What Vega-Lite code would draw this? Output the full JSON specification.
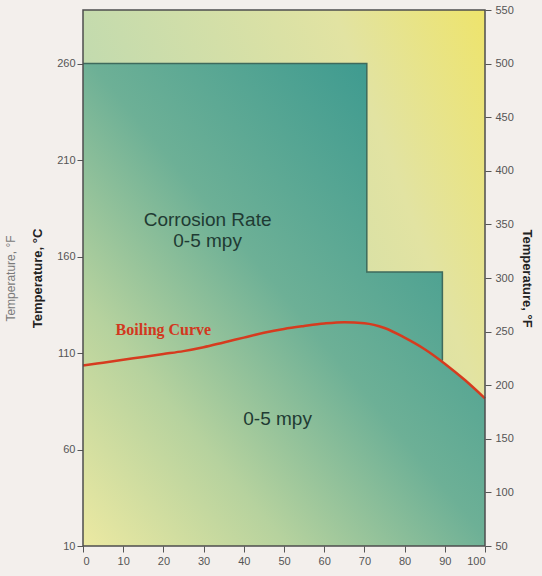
{
  "$schema": "https://vega.github.io/schema/vega-lite/v6.json",
  "width": 402,
  "height": 536,
  "autosize": {"type": "none"},
  "padding": {"left": 83, "top": 10, "right": 57, "bottom": 30},
  "background": "#f3efec",
  "config": {
    "view": {"stroke": null},
    "axis": {
      "labelFont": "Liberation Sans",
      "labelFontSize": 11,
      "labelColor": "#555555",
      "tickColor": "#555555",
      "tickSize": 6,
      "labelPadding": 2,
      "domain": false,
      "grid": false,
      "titleFont": "Liberation Sans",
      "titleFontSize": 13,
      "titleColor": "#222222"
    }
  },
  "datasets": {
    "frame": [{"x0": 0, "x1": 100, "f0": 50, "f1": 550}],
    "region": [
      {"i": 0, "x": 0, "c": 260},
      {"i": 1, "x": 70.6, "c": 260},
      {"i": 2, "x": 70.6, "c": 152},
      {"i": 3, "x": 89.4, "c": 152},
      {"i": 4, "x": 89.4, "c": 106},
      {"i": 5, "x": 90, "c": 104.5},
      {"i": 6, "x": 95, "c": 96},
      {"i": 7, "x": 100, "c": 86.5}
    ],
    "boiling": [
      {"x": 0, "c": 103.5},
      {"x": 5, "c": 105},
      {"x": 10, "c": 106.5},
      {"x": 15, "c": 108},
      {"x": 20, "c": 109.5},
      {"x": 25, "c": 111},
      {"x": 30, "c": 113},
      {"x": 35, "c": 115.5},
      {"x": 40, "c": 118},
      {"x": 45, "c": 120.5},
      {"x": 50, "c": 122.5},
      {"x": 55, "c": 124},
      {"x": 60, "c": 125.3},
      {"x": 65, "c": 126},
      {"x": 70, "c": 125.5},
      {"x": 75, "c": 123},
      {"x": 80, "c": 118},
      {"x": 85, "c": 112},
      {"x": 90, "c": 104.5},
      {"x": 95, "c": 96},
      {"x": 100, "c": 86.5}
    ],
    "labels": [
      {"text": "Corrosion Rate", "x": 31, "c": 179},
      {"text": "0-5 mpy", "x": 31, "c": 168},
      {"text": "0-5 mpy", "x": 48.4, "c": 76}
    ],
    "blabel": [{"text": "Boiling Curve", "x": 20, "c": 122}]
  },
  "layer": [
    {
      "data": {"name": "frame"},
      "mark": {
        "type": "rect",
        "fill": {
          "gradient": "linear",
          "x1": 0, "y1": 0.5, "x2": 1, "y2": 0,
          "stops": [
            {"offset": 0, "color": "#b9d8b2"},
            {"offset": 0.7, "color": "#e2e3a2"},
            {"offset": 1, "color": "#eee46c"}
          ]
        }
      },
      "encoding": {
        "x": {"field": "x0", "type": "quantitative", "scale": {"domain": [0, 100], "nice": false, "zero": false},
          "axis": {"values": [0, 10, 20, 30, 40, 50, 60, 70, 80, 90, 100], "title": null, "labelPadding": 3}},
        "x2": {"field": "x1"},
        "y": {"field": "f1", "type": "quantitative", "scale": {"domain": [50, 550], "nice": false, "zero": false},
          "axis": {"orient": "left", "title": "Temperature, °F", "labels": false, "ticks": false,
            "titleFontWeight": "normal", "titleColor": "#7a7a7a", "titleFontSize": 12, "titlePadding": 66}},
        "y2": {"field": "f0"}
      }
    },
    {
      "data": {"name": "region"},
      "mark": {
        "type": "area",
        "fill": {
          "gradient": "linear",
          "x1": 0, "y1": 1, "x2": 0.85, "y2": 0.15,
          "stops": [
            {"offset": 0, "color": "#ece9a2"},
            {"offset": 0.3, "color": "#b6d29e"},
            {"offset": 0.6, "color": "#6db096"},
            {"offset": 1, "color": "#3f9b90"}
          ]
        }
      },
      "encoding": {
        "x": {"field": "x", "type": "quantitative"},
        "y": {"field": "c", "type": "quantitative", "scale": {"domain": [10, 287.78], "nice": false, "zero": false},
          "axis": {"orient": "left", "title": "Temperature, °C", "values": [10, 60, 110, 160, 210, 260],
            "titleFontWeight": "bold", "titlePadding": 12}},
        "y2": {"datum": 10}
      }
    },
    {
      "data": {"name": "region"},
      "transform": [{"filter": "datum.i <= 4"}],
      "mark": {"type": "line", "color": "#3e6a5c", "strokeWidth": 1.5},
      "encoding": {
        "x": {"field": "x", "type": "quantitative"},
        "y": {"field": "c", "type": "quantitative", "scale": {"domain": [10, 287.78], "nice": false, "zero": false}, "axis": null},
        "order": {"field": "i"}
      }
    },
    {
      "data": {"name": "boiling"},
      "mark": {"type": "line", "color": "#d63b1f", "strokeWidth": 2.5, "interpolate": "monotone"},
      "encoding": {
        "x": {"field": "x", "type": "quantitative"},
        "y": {"field": "c", "type": "quantitative", "scale": {"domain": [10, 287.78], "nice": false, "zero": false}, "axis": null}
      }
    },
    {
      "data": {"name": "labels"},
      "mark": {"type": "text", "font": "Liberation Sans", "fontSize": 19, "color": "#1f3b33", "align": "center", "baseline": "middle"},
      "encoding": {
        "x": {"field": "x", "type": "quantitative"},
        "y": {"field": "c", "type": "quantitative", "scale": {"domain": [10, 287.78], "nice": false, "zero": false}, "axis": null},
        "text": {"field": "text"}
      }
    },
    {
      "data": {"name": "blabel"},
      "mark": {"type": "text", "font": "Liberation Serif", "fontSize": 16, "fontWeight": "bold", "color": "#d2381e", "align": "center", "baseline": "middle"},
      "encoding": {
        "x": {"field": "x", "type": "quantitative"},
        "y": {"field": "c", "type": "quantitative", "scale": {"domain": [10, 287.78], "nice": false, "zero": false}, "axis": null},
        "text": {"field": "text"}
      }
    },
    {
      "data": {"name": "frame"},
      "mark": {"type": "rect", "fill": null, "stroke": "#4d4d4d", "strokeWidth": 1.5},
      "encoding": {
        "x": {"field": "x0", "type": "quantitative"},
        "x2": {"field": "x1"},
        "y": {"field": "f1", "type": "quantitative", "scale": {"domain": [50, 550], "nice": false, "zero": false},
          "axis": {"orient": "right", "title": "Temperature, °F", "values": [50, 100, 150, 200, 250, 300, 350, 400, 450, 500, 550],
            "titleFontWeight": "bold", "labelPadding": 4, "titlePadding": 6}},
        "y2": {"field": "f0"}
      }
    }
  ],
  "resolve": {"scale": {"y": "independent"}}
}
